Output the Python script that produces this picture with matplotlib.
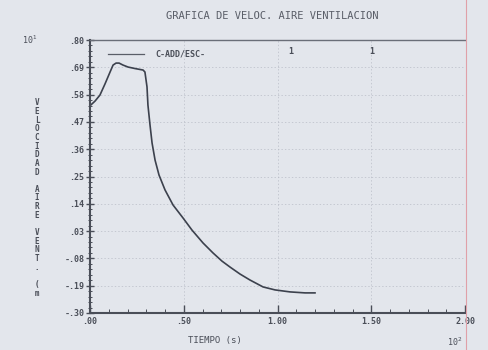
import matplotlib
matplotlib.use("Agg")
import matplotlib.pyplot as plt
from matplotlib.lines import Line2D
import numpy as np

# Data (time in units of 10^2 s, velocity in units of 10^1 m/s)
tiempo = [0.000, 0.027, 0.053, 0.080, 0.107, 0.123, 0.139, 0.155, 0.176, 0.203,
          0.240, 0.283, 0.293, 0.304, 0.309, 0.320, 0.331, 0.347, 0.368, 0.400,
          0.443, 0.496, 0.544, 0.603, 0.656, 0.704, 0.747, 0.800, 0.853, 0.923,
          0.987, 1.067, 1.147, 1.200]
velocidad = [0.535, 0.554, 0.578, 0.623, 0.671, 0.699, 0.707, 0.707, 0.699, 0.691,
             0.685, 0.679, 0.671, 0.611, 0.538, 0.458, 0.385, 0.316, 0.256, 0.196,
             0.135, 0.083, 0.034, -0.018, -0.058, -0.091, -0.115, -0.143, -0.167, -0.195,
             -0.207, -0.215, -0.219, -0.219]

y_ticks = [-0.30, -0.19, -0.08, 0.03, 0.14, 0.25, 0.36, 0.47, 0.58, 0.69, 0.80]
y_labels = ["-.30", "-.19", "-.08", ".03", ".14", ".25", ".36", ".47", ".58", ".69", ".80"]
x_ticks = [0.0, 0.5, 1.0, 1.5, 2.0]
x_labels = [".00", ".50", "1.00", "1.50", "2.00"]

title = "GRAFICA DE VELOC. AIRE VENTILACION"
ylabel = "VELOCIDAD AIRE VENT. (m"
xlabel = "TIEMPO (s)"
legend_label = "C-ADD/ESC-"

bg = "#e3e6ec"
ink = "#4a4e58"
mono = "DejaVu Sans Mono"

fig = plt.figure(figsize=(4.88, 3.5), dpi=100, facecolor=bg)
ax = fig.add_axes([90/488, 1-313/350, 375/488, 273/350])
ax.set_facecolor(bg)

ax.plot(tiempo, velocidad, color="#3c414d", lw=1.2, solid_joinstyle="round")

ax.set_xlim(0, 2.0)
ax.set_ylim(-0.30, 0.80)
ax.set_yticks(y_ticks)
ax.set_yticklabels(y_labels)
ax.set_xticks(x_ticks)
ax.set_xticklabels(x_labels)
ax.set_yticks(np.linspace(-0.30, 0.80, 51), minor=True)
ax.set_xticks(np.linspace(0, 2.0, 21), minor=True)

for lab in ax.get_xticklabels() + ax.get_yticklabels():
    lab.set_fontfamily(mono)
    lab.set_fontsize(6)
    lab.set_color(ink)
    lab.set_fontweight("bold")

ax.tick_params(axis="y", which="major", direction="inout", length=6, width=1, color=ink, pad=1)
ax.tick_params(axis="y", which="minor", direction="inout", length=3, width=0.7, color=ink)
ax.tick_params(axis="x", which="major", direction="in", length=6, width=1, color=ink, pad=3)
ax.tick_params(axis="x", which="minor", direction="in", length=3, width=0.7, color=ink)

ax.grid(True, which="major", color="#b8bcc6", lw=0.5, ls=(0, (2, 3)))

for s in ["left", "bottom"]:
    ax.spines[s].set_color(ink)
    ax.spines[s].set_linewidth(1.5)
ax.spines["top"].set_color("#6a6e78")
ax.spines["top"].set_linewidth(1.0)
ax.spines["right"].set_visible(False)

# legend-like annotation
ax.plot([0.095, 0.29], [0.745, 0.745], color="#5a5e68", lw=0.9)
ax.text(0.35, 0.745, legend_label, fontfamily=mono, fontsize=6, color=ink,
        va="center", ha="left", fontweight="bold")
ax.text(1.07, 0.755, "1", fontfamily=mono, fontsize=6, color=ink, va="center", ha="center", fontweight="bold")
ax.text(1.50, 0.755, "1", fontfamily=mono, fontsize=6, color=ink, va="center", ha="center", fontweight="bold")

fig.text(272/488, 1-16/350, title, fontfamily=mono, fontsize=7.5, color="#5a5e68",
         ha="center", va="center")
fig.text(30/488, 1-40/350, "10$^1$", fontfamily=mono, fontsize=6, color=ink, ha="center", va="center")
fig.text(455/488, 1-342/350, "10$^2$", fontfamily=mono, fontsize=6, color=ink, ha="center", va="center")
fig.text(215/488, 1-341/350, xlabel, fontfamily=mono, fontsize=6.5, color=ink, ha="center", va="center")
fig.text(37/488, 1-198/350, "\n".join(ylabel), fontfamily=mono, fontsize=5.5, color=ink,
         ha="center", va="center", linespacing=0.95, fontweight="bold")

# reddish vertical page line at the right
fig.add_artist(Line2D([466/488, 466/488], [0, 1], transform=fig.transFigure, color="#e0a0a8", lw=0.8))

fig.savefig("out.png", dpi=100, facecolor=bg)
